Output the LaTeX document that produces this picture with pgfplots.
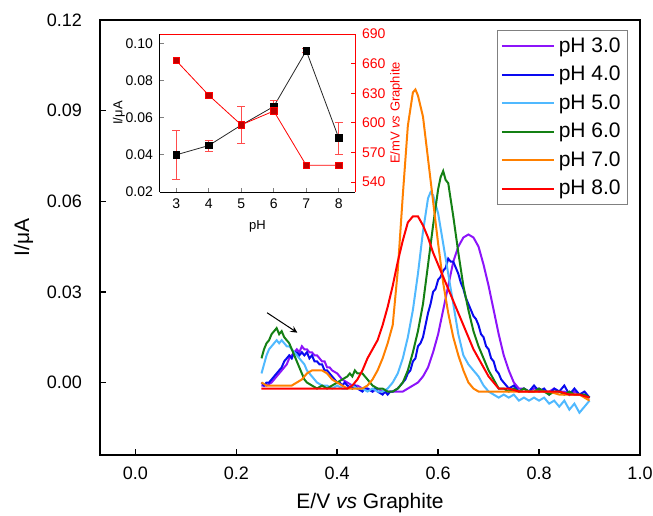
\documentclass[border=0pt]{standalone}
\usepackage{fontspec}
\setmainfont{Liberation Sans}
\usepackage{pgfplots}
\pgfplotsset{compat=1.18}
\usetikzlibrary{calc}

\definecolor{cph3}{RGB}{140,20,250}
\definecolor{cph4}{RGB}{10,10,240}
\definecolor{cph5}{RGB}{80,185,255}
\definecolor{cph6}{RGB}{20,128,20}
\definecolor{cph7}{RGB}{255,128,0}
\definecolor{cph8}{RGB}{255,0,0}

\begin{document}
\begin{tikzpicture}
\useasboundingbox (-50pt,-30pt) rectangle (276.5pt,227.5pt);
\begin{axis}[
    name=main,
    at={(0,0)}, anchor=south west,
    scale only axis,
    width=270pt, height=217.5pt,
    xmin=-0.07, xmax=1.0,
    ymin=-0.024, ymax=0.12,
    xtick={0,0.2,0.4,0.6,0.8,1.0},
    ytick={0,0.03,0.06,0.09,0.12},
    scaled x ticks=false, scaled y ticks=false,
    xtick pos=bottom, ytick pos=left,
    tick align=inside,
    major tick length=3pt,
    axis line style={line width=0.8pt},
    tick style={line width=0.7pt, black},
    /pgf/number format/assume math mode=true,
    xticklabel style={font=\fontsize{9}{10}\selectfont, yshift=-2.5pt,
        /pgf/number format/fixed, /pgf/number format/fixed zerofill,
        /pgf/number format/precision=1},
    yticklabel style={font=\fontsize{9}{10}\selectfont, xshift=-5.5pt,
        /pgf/number format/fixed, /pgf/number format/fixed zerofill,
        /pgf/number format/precision=2},
    xlabel={E/V \textit{vs} Graphite},
    ylabel={I/μA},
    label style={font=\fontsize{10.5}{12}\selectfont},
    legend style={at={(0.978,0.977)}, anchor=north east,
        draw=gray, line width=0.5pt,
        font=\fontsize{10.5}{12}\selectfont,
        row sep=1.4pt, inner sep=1.5pt},
    legend cell align=left,
    legend image code/.code={\draw[#1, line width=1pt] (0pt,0pt) -- (26pt,0pt);},
    every axis plot/.append style={line width=1pt, no markers},
]
% pH 3.0
\addplot[color=cph3] coordinates {
(0.25,-0.001)(0.26,-0.001)(0.27,0.000)(0.28,0.002)(0.29,0.004)(0.30,0.006)
(0.305,0.008)(0.31,0.009)(0.315,0.010)(0.32,0.011)(0.325,0.010)(0.33,0.012)
(0.335,0.011)(0.34,0.011)(0.345,0.010)(0.35,0.010)(0.355,0.009)(0.36,0.009)
(0.365,0.008)(0.37,0.007)(0.375,0.007)(0.38,0.005)(0.385,0.005)(0.39,0.004)
(0.40,0.003)(0.41,0.001)(0.42,0.000)(0.43,-0.001)(0.44,-0.001)(0.45,-0.002)
(0.46,-0.002)(0.47,-0.003)(0.48,-0.002)(0.49,-0.003)(0.50,-0.003)(0.51,-0.003)
(0.52,-0.003)(0.53,-0.003)(0.54,-0.002)(0.55,-0.001)(0.56,0.000)(0.57,0.002)
(0.58,0.005)(0.59,0.010)(0.60,0.016)(0.61,0.024)(0.62,0.032)(0.63,0.040)
(0.64,0.045)(0.65,0.048)(0.66,0.049)(0.67,0.048)(0.68,0.045)(0.69,0.039)
(0.70,0.032)(0.71,0.024)(0.72,0.016)(0.73,0.009)(0.74,0.004)(0.75,0.000)
(0.76,-0.002)(0.77,-0.002)(0.78,-0.003)(0.79,-0.002)(0.80,-0.002)(0.81,-0.003)
(0.82,-0.003)(0.83,-0.002)(0.84,-0.003)(0.85,-0.003)(0.86,-0.004)(0.87,-0.003)
(0.88,-0.004)(0.89,-0.004)(0.90,-0.005)
};
% pH 4.0
\addplot[color=cph4] coordinates {
(0.25,0.000)(0.255,-0.001)(0.26,0.000)(0.265,0.000)(0.27,0.001)(0.275,0.002)
(0.28,0.003)(0.285,0.004)(0.29,0.005)(0.295,0.007)(0.30,0.008)(0.305,0.009)
(0.31,0.008)(0.315,0.010)(0.32,0.010)(0.325,0.009)(0.33,0.010)(0.335,0.009)
(0.34,0.010)(0.345,0.008)(0.35,0.009)(0.355,0.007)(0.36,0.007)(0.365,0.006)
(0.37,0.006)(0.375,0.004)(0.38,0.004)(0.385,0.003)(0.39,0.002)(0.395,0.001)
(0.40,0.000)(0.405,0.000)(0.41,-0.001)(0.415,0.000)(0.42,-0.001)(0.43,-0.002)
(0.435,-0.001)(0.44,-0.002)(0.45,-0.003)(0.455,-0.002)(0.46,-0.002)(0.47,-0.003)
(0.475,-0.002)(0.48,-0.003)(0.49,-0.004)(0.495,-0.003)(0.50,-0.004)(0.505,-0.003)
(0.51,-0.003)(0.52,-0.002)(0.53,0.000)(0.535,0.001)(0.54,0.003)(0.545,0.004)
(0.55,0.007)(0.555,0.008)(0.56,0.012)(0.565,0.013)(0.57,0.015)(0.575,0.019)
(0.58,0.023)(0.585,0.026)(0.59,0.030)(0.595,0.031)(0.60,0.034)(0.605,0.035)
(0.61,0.037)(0.615,0.038)(0.62,0.041)(0.625,0.040)(0.63,0.040)(0.635,0.038)
(0.64,0.036)(0.645,0.033)(0.65,0.031)(0.655,0.028)(0.66,0.026)(0.665,0.024)
(0.67,0.022)(0.675,0.021)(0.68,0.019)(0.685,0.016)(0.69,0.015)(0.695,0.012)
(0.70,0.011)(0.705,0.008)(0.71,0.007)(0.715,0.004)(0.72,0.003)(0.725,0.001)
(0.73,0.000)(0.735,-0.001)(0.74,-0.002)(0.75,-0.001)(0.76,-0.003)(0.77,-0.002)
(0.78,-0.003)(0.79,-0.001)(0.80,-0.003)(0.81,-0.002)(0.82,-0.004)(0.83,-0.002)
(0.84,-0.003)(0.85,-0.001)(0.86,-0.004)(0.87,-0.002)(0.88,-0.004)(0.89,-0.003)
(0.90,-0.005)
};
% pH 5.0
\addplot[color=cph5] coordinates {
(0.25,0.003)(0.255,0.006)(0.26,0.009)(0.265,0.011)(0.27,0.012)(0.275,0.013)
(0.28,0.014)(0.285,0.013)(0.29,0.014)(0.295,0.013)(0.30,0.012)(0.305,0.012)
(0.31,0.011)(0.315,0.010)(0.32,0.009)(0.325,0.008)(0.33,0.007)(0.335,0.006)
(0.34,0.004)(0.345,0.003)(0.35,0.002)(0.36,0.000)(0.37,-0.001)(0.38,-0.001)
(0.39,-0.002)(0.40,-0.001)(0.41,-0.002)(0.42,-0.002)(0.43,-0.001)(0.44,-0.002)
(0.45,-0.002)(0.46,-0.003)(0.47,-0.002)(0.48,-0.003)(0.49,-0.003)(0.50,-0.002)
(0.51,0.000)(0.52,0.003)(0.53,0.008)(0.54,0.015)(0.55,0.024)(0.56,0.036)
(0.57,0.050)(0.58,0.061)(0.585,0.063)(0.59,0.062)(0.60,0.056)(0.61,0.046)
(0.62,0.036)(0.63,0.026)(0.64,0.016)(0.65,0.009)(0.66,0.006)(0.67,0.004)
(0.68,0.002)(0.69,-0.001)(0.70,-0.003)(0.71,-0.004)(0.72,-0.005)(0.73,-0.004)
(0.74,-0.005)(0.75,-0.004)(0.76,-0.006)(0.77,-0.005)(0.78,-0.006)(0.79,-0.005)
(0.80,-0.006)(0.81,-0.005)(0.82,-0.007)(0.83,-0.006)(0.84,-0.008)(0.85,-0.006)
(0.86,-0.009)(0.87,-0.007)(0.88,-0.010)(0.89,-0.008)(0.90,-0.006)
};
% pH 6.0
\addplot[color=cph6] coordinates {
(0.25,0.008)(0.255,0.011)(0.26,0.013)(0.265,0.014)(0.27,0.016)(0.275,0.017)
(0.28,0.018)(0.285,0.016)(0.29,0.017)(0.295,0.015)(0.30,0.014)(0.305,0.013)
(0.31,0.011)(0.315,0.009)(0.32,0.007)(0.325,0.005)(0.33,0.003)(0.335,0.001)
(0.34,0.000)(0.35,-0.001)(0.36,-0.002)(0.37,-0.001)(0.38,-0.002)(0.39,-0.001)
(0.40,0.000)(0.41,0.001)(0.42,0.002)(0.425,0.003)(0.43,0.002)(0.435,0.004)
(0.44,0.003)(0.45,0.003)(0.46,0.001)(0.47,-0.001)(0.48,-0.002)(0.49,-0.002)
(0.50,-0.003)(0.51,-0.003)(0.52,-0.002)(0.53,0.000)(0.54,0.004)(0.55,0.010)
(0.56,0.017)(0.57,0.026)(0.58,0.039)(0.59,0.052)(0.60,0.064)(0.605,0.068)
(0.61,0.070)(0.615,0.067)(0.62,0.066)(0.63,0.055)(0.64,0.043)(0.65,0.032)
(0.66,0.024)(0.67,0.017)(0.68,0.012)(0.69,0.008)(0.70,0.004)(0.71,0.001)
(0.72,-0.002)(0.73,-0.002)(0.74,-0.003)(0.75,-0.002)(0.76,-0.003)(0.77,-0.002)
(0.78,-0.003)(0.79,-0.003)(0.80,-0.002)(0.81,-0.003)(0.82,-0.004)(0.83,-0.003)
(0.84,-0.003)(0.85,-0.004)(0.86,-0.003)(0.87,-0.004)(0.88,-0.004)(0.89,-0.004)
(0.90,-0.005)
};
% pH 7.0
\addplot[color=cph7] coordinates {
(0.25,0.000)(0.26,-0.001)(0.27,-0.001)(0.28,-0.001)(0.29,-0.001)(0.30,-0.001)
(0.31,-0.001)(0.32,0.000)(0.33,0.001)(0.34,0.003)(0.35,0.004)(0.36,0.004)
(0.37,0.004)(0.38,0.003)(0.39,0.001)(0.40,0.000)(0.41,-0.001)(0.42,-0.002)
(0.43,-0.002)(0.44,-0.002)(0.45,-0.002)(0.46,-0.001)(0.47,0.001)(0.48,0.004)
(0.49,0.008)(0.50,0.013)(0.51,0.019)(0.52,0.037)(0.53,0.062)(0.54,0.085)
(0.55,0.096)(0.555,0.097)(0.56,0.095)(0.57,0.088)(0.58,0.074)(0.59,0.060)
(0.60,0.046)(0.61,0.033)(0.62,0.023)(0.63,0.015)(0.64,0.009)(0.65,0.004)
(0.66,0.000)(0.67,-0.002)(0.68,-0.003)(0.70,-0.003)(0.72,-0.003)(0.74,-0.003)
(0.76,-0.003)(0.78,-0.003)(0.80,-0.003)(0.82,-0.003)(0.84,-0.004)(0.86,-0.004)
(0.88,-0.004)(0.90,-0.006)
};
% pH 8.0
\addplot[color=cph8] coordinates {
(0.25,-0.002)(0.27,-0.002)(0.29,-0.002)(0.31,-0.002)(0.33,-0.002)(0.35,-0.002)
(0.37,-0.002)(0.39,-0.002)(0.41,-0.002)(0.42,-0.002)(0.43,-0.001)(0.44,0.001)
(0.45,0.004)(0.46,0.008)(0.47,0.011)(0.48,0.014)(0.49,0.019)(0.50,0.025)
(0.51,0.032)(0.52,0.040)(0.53,0.047)(0.54,0.053)(0.55,0.055)(0.56,0.055)
(0.57,0.052)(0.58,0.048)(0.59,0.043)(0.60,0.039)(0.61,0.035)(0.62,0.031)
(0.63,0.027)(0.64,0.023)(0.65,0.019)(0.66,0.015)(0.67,0.011)(0.68,0.008)
(0.69,0.005)(0.70,0.002)(0.71,0.000)(0.72,-0.002)(0.74,-0.002)(0.76,-0.003)
(0.78,-0.003)(0.80,-0.003)(0.82,-0.003)(0.84,-0.003)(0.86,-0.004)(0.88,-0.004)
(0.90,-0.005)
};
\legend{pH 3.0,pH 4.0,pH 5.0,pH 6.0,pH 7.0,pH 8.0}
\draw[-stealth, line width=0.5pt] (axis cs:0.261,0.0231) -- (axis cs:0.321,0.0165);
\end{axis}

% inset, left axis: current
\begin{axis}[
    at={($(main.south west)+(30pt,131.5pt)$)}, anchor=south west,
    scale only axis, width=97.5pt, height=79pt,
    xmin=2.5, xmax=8.5, ymin=0.02, ymax=0.105,
    axis x line*=bottom, axis y line*=left,
    xtick={3,4,5,6,7,8}, ytick={0.02,0.04,0.06,0.08,0.10},
    scaled y ticks=false,
    tick align=inside, major tick length=2pt,
    axis line style={line width=0.5pt},
    tick style={line width=0.5pt},
    /pgf/number format/assume math mode=true,
    ticklabel style={font=\fontsize{7}{8}\selectfont},
    yticklabel style={/pgf/number format/fixed, /pgf/number format/fixed zerofill,
        /pgf/number format/precision=2},
    xlabel={pH}, ylabel={I/μA},
    label style={font=\fontsize{6.5}{7.5}\selectfont},
    xlabel style={yshift=1pt}, ylabel style={yshift=-6.5pt},
]
\addplot[black!85, line width=0.4pt, mark=square*, mark size=1.6pt,
    mark options={black},
    error bars/.cd, y dir=both, y explicit,
    error bar style={red!70, line width=0.4pt},
    error mark options={rotate=90, red!70, mark size=2pt, line width=0.4pt}]
  table[x=ph, y=i, y error=e] {
ph i e
3 0.040 0.0130
4 0.045 0.0030
5 0.056 0.0100
6 0.066 0.0035
7 0.096 0.0010
8 0.049 0.0086
};
\end{axis}

% inset, right axis: potential
\begin{axis}[
    at={($(main.south west)+(30pt,131.5pt)$)}, anchor=south west,
    scale only axis, width=97.5pt, height=79pt,
    xmin=2.5, xmax=8.5, ymin=530, ymax=690,
    axis x line*=top, axis y line*=right,
    xtick=\empty, ytick={540,570,600,630,660,690},
    tick align=inside, major tick length=2pt,
    axis line style={red, line width=0.5pt},
    tick style={red, line width=0.5pt},
    /pgf/number format/assume math mode=true,
    ticklabel style={font=\fontsize{7}{8}\selectfont, red},
    ylabel={E/mV \textit{vs} Graphite},
    ylabel style={font=\fontsize{6.5}{7.5}\selectfont, red, yshift=4.5pt},
]
\addplot[red, line width=0.4pt, mark=square*, mark size=1.6pt,
    mark options={fill=red!75!black, draw=red},
    error bars/.cd, y dir=both, y explicit,
    error bar style={red, line width=0.4pt},
    error mark options={rotate=90, red, mark size=1.5pt}]
  table[x=ph, y=e, y error=d] {
ph e d
3 663 2
4 628 2
5 598 2
6 612 2
7 557 2
8 557 2
};
\end{axis}
\end{tikzpicture}
\end{document}
